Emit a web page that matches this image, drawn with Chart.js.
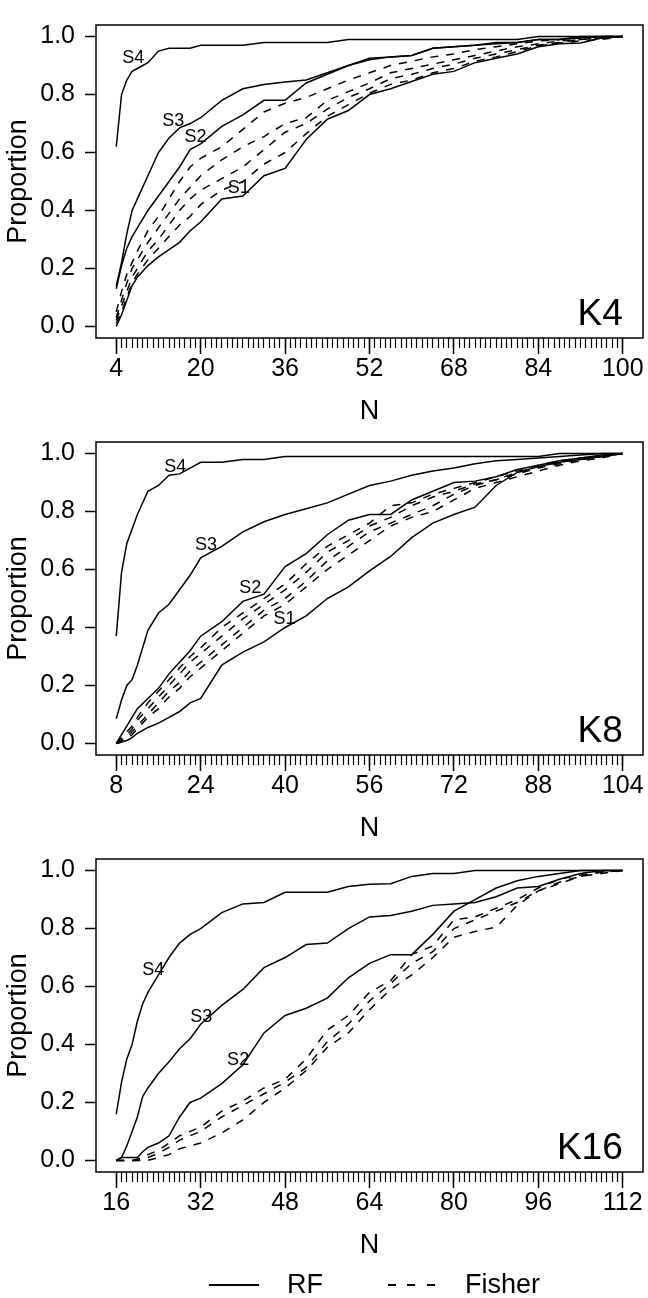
<!DOCTYPE html>
<html>
<head>
<meta charset="utf-8">
<script src="https://cdn.jsdelivr.net/npm/chart.js@4.4.1/dist/chart.umd.min.js"></script>
<style>
  body { margin: 0; width: 648px; height: 1298px; position: relative; background: #fff; overflow: hidden; }
  canvas { position: absolute; left: 0; }
  .key { position: absolute; font: 27px "Liberation Sans", Arial, sans-serif; color: #000; line-height: 27px; }
</style>
</head>
<body>
<canvas id="k4" width="648" height="440" style="top:0px"></canvas>
<canvas id="k8" width="648" height="440" style="top:417px"></canvas>
<canvas id="k16" width="648" height="440" style="top:834px"></canvas>

<div style="position:absolute;left:209px;top:1284px;width:50px;height:1.5px;background:#000"></div>
<span class="key" style="left:287px;top:1271px">RF</span>
<div style="position:absolute;left:388px;top:1284px;width:47px;height:1.5px;background:repeating-linear-gradient(90deg,#000 0 8px,transparent 8px 19.5px)"></div>
<span class="key" style="left:465px;top:1271px">Fisher</span>

<script>
// ---- K4 ----
const k4N = [4,5,6,7,8,10,12,14,16,18,20,24,28,32,36,40,44,48,52,56,60,64,68,72,76,80,84,88,92,96,100];
const k4Ticks = [4,20,36,52,68,84,100];
const k4RfS1 = [0,0.04,0.09,0.14,0.17,0.21,0.24,0.265,0.29,0.33,0.36,0.44,0.45,0.52,0.545,0.645,0.715,0.745,0.80,0.82,0.845,0.87,0.88,0.91,0.925,0.94,0.965,0.975,0.978,0.995,1.0];
const k4RfS2 = [0.13,0.21,0.27,0.31,0.34,0.40,0.45,0.50,0.55,0.61,0.63,0.69,0.73,0.78,0.78,0.84,0.87,0.90,0.92,0.93,0.935,0.96,0.965,0.97,0.975,0.98,0.99,0.99,0.995,1.0,1.0];
const k4RfS3 = [0.14,0.22,0.32,0.40,0.44,0.52,0.60,0.65,0.685,0.70,0.72,0.78,0.82,0.835,0.843,0.85,0.875,0.90,0.925,0.93,0.935,0.96,0.965,0.97,0.98,0.98,0.99,0.99,1.0,1.0,1.0];
const k4RfS4 = [0.62,0.80,0.85,0.88,0.89,0.91,0.95,0.96,0.96,0.96,0.97,0.97,0.97,0.98,0.98,0.98,0.98,0.99,0.99,0.99,0.99,0.99,0.99,0.99,0.99,0.99,1.0,1.0,1.0,1.0,1.0];
const k4FisherA = [0.05,0.12,0.18,0.22,0.26,0.33,0.38,0.44,0.50,0.55,0.58,0.62,0.68,0.74,0.77,0.79,0.82,0.85,0.875,0.90,0.915,0.93,0.94,0.955,0.965,0.975,0.985,0.99,0.995,1.0,1.0];
const k4FisherB = [0.03,0.09,0.15,0.20,0.23,0.29,0.34,0.39,0.44,0.48,0.52,0.575,0.62,0.655,0.70,0.72,0.78,0.81,0.84,0.875,0.89,0.905,0.92,0.935,0.95,0.965,0.975,0.985,0.99,0.995,1.0];
const k4FisherC = [0.02,0.07,0.12,0.17,0.20,0.26,0.30,0.35,0.40,0.44,0.47,0.51,0.55,0.61,0.67,0.70,0.75,0.79,0.82,0.855,0.87,0.89,0.905,0.925,0.94,0.955,0.97,0.98,0.99,0.995,1.0];
const k4FisherD = [0.01,0.05,0.10,0.15,0.18,0.23,0.27,0.31,0.35,0.38,0.42,0.47,0.50,0.56,0.60,0.665,0.725,0.765,0.805,0.835,0.85,0.875,0.89,0.915,0.93,0.948,0.968,0.978,0.985,0.99,1.0];

// ---- K8 ----
const k8N = [8,9,10,11,12,14,16,18,20,22,24,28,32,36,40,44,48,52,56,60,64,68,72,76,80,84,88,92,96,100,104];
const k8Ticks = [8,24,40,56,72,88,104];
const k8RfS1 = [0,0.005,0.01,0.02,0.035,0.055,0.07,0.09,0.11,0.14,0.155,0.27,0.315,0.35,0.40,0.44,0.50,0.54,0.595,0.645,0.71,0.76,0.79,0.815,0.89,0.935,0.955,0.97,0.98,0.99,1.0];
const k8RfS2 = [0,0.03,0.06,0.09,0.12,0.155,0.19,0.24,0.28,0.32,0.37,0.42,0.49,0.515,0.61,0.655,0.72,0.77,0.79,0.79,0.84,0.87,0.90,0.905,0.92,0.945,0.96,0.975,0.985,0.995,1.0];
const k8RfS3 = [0.085,0.15,0.20,0.22,0.27,0.39,0.45,0.48,0.53,0.58,0.64,0.68,0.73,0.765,0.79,0.81,0.83,0.86,0.89,0.905,0.925,0.94,0.95,0.965,0.975,0.98,0.985,0.99,0.995,1.0,1.0];
const k8RfS4 = [0.37,0.59,0.69,0.74,0.79,0.87,0.89,0.925,0.93,0.95,0.97,0.97,0.98,0.98,0.99,0.99,0.99,0.99,0.99,0.99,0.99,0.99,0.99,0.99,0.99,0.99,0.99,1.0,1.0,1.0,1.0];
const k8FisherA = [0,0.02,0.04,0.06,0.09,0.14,0.18,0.22,0.26,0.30,0.33,0.40,0.45,0.50,0.55,0.62,0.68,0.72,0.76,0.82,0.83,0.86,0.88,0.90,0.92,0.94,0.96,0.975,0.985,0.99,1.0];
const k8FisherB = [0,0.015,0.03,0.05,0.08,0.12,0.16,0.20,0.24,0.28,0.31,0.37,0.43,0.48,0.53,0.59,0.66,0.70,0.75,0.78,0.82,0.85,0.87,0.895,0.91,0.935,0.955,0.97,0.98,0.99,1.0];
const k8FisherC = [0,0.01,0.02,0.04,0.06,0.10,0.14,0.18,0.21,0.25,0.28,0.34,0.40,0.46,0.50,0.56,0.63,0.68,0.73,0.76,0.79,0.82,0.86,0.89,0.91,0.93,0.95,0.965,0.98,0.99,1.0];
const k8FisherD = [0,0.005,0.015,0.03,0.05,0.09,0.12,0.16,0.19,0.23,0.26,0.32,0.38,0.44,0.48,0.54,0.60,0.65,0.70,0.75,0.78,0.80,0.84,0.88,0.90,0.92,0.94,0.96,0.975,0.985,1.0];

// ---- K16 ----
const k16N = [16,17,18,19,20,21,22,24,26,28,30,32,36,40,44,48,52,56,60,64,68,72,76,80,84,88,92,96,100,104,108,112];
const k16Ticks = [16,32,48,64,80,96,112];
const k16RfS2 = [0,0.01,0.01,0.01,0.01,0.03,0.045,0.06,0.085,0.15,0.20,0.215,0.265,0.33,0.44,0.50,0.525,0.56,0.63,0.68,0.71,0.71,0.78,0.86,0.90,0.94,0.965,0.98,0.99,1.0,1.0,1.0];
const k16RfS3 = [0,0.01,0.05,0.10,0.15,0.22,0.25,0.30,0.34,0.385,0.42,0.47,0.535,0.59,0.665,0.70,0.745,0.75,0.80,0.84,0.845,0.86,0.88,0.885,0.89,0.91,0.94,0.945,0.97,0.99,1.0,1.0];
const k16RfS4 = [0.16,0.27,0.35,0.40,0.48,0.54,0.58,0.64,0.70,0.75,0.78,0.80,0.855,0.885,0.89,0.925,0.925,0.925,0.945,0.953,0.955,0.98,0.99,0.99,1.0,1.0,1.0,1.0,1.0,1.0,1.0,1.0];
const k16FisherA = [0,0,0,0,0.005,0.01,0.02,0.035,0.06,0.085,0.10,0.115,0.17,0.205,0.25,0.28,0.35,0.45,0.50,0.58,0.62,0.71,0.74,0.83,0.84,0.87,0.90,0.94,0.97,0.985,0.995,1.0];
const k16FisherB = [0,0,0,0,0,0,0,0.01,0.02,0.04,0.05,0.06,0.095,0.14,0.20,0.25,0.31,0.39,0.44,0.52,0.59,0.64,0.70,0.77,0.79,0.805,0.88,0.93,0.955,0.98,0.995,1.0];
const k16FisherC = [0,0,0,0,0,0.005,0.01,0.025,0.045,0.07,0.085,0.10,0.15,0.19,0.23,0.27,0.32,0.41,0.47,0.55,0.61,0.68,0.72,0.80,0.83,0.86,0.89,0.93,0.96,0.98,0.99,1.0];

const yTicks = [0, 0.2, 0.4, 0.6, 0.8, 1.0];

const FONT = '"Liberation Sans", Arial, sans-serif';
Chart.defaults.font.family = FONT;
Chart.defaults.color = '#000';

function series(ns, vals, dashed) {
    return {
        data: ns.map((n, i) => ({ x: n, y: vals[i] })),
        borderColor: '#000',
        borderWidth: 1.5,
        borderDash: dashed ? [8, 8] : [],
        pointRadius: 0,
        fill: false,
        tension: 0
    };
}

// box round the plot, S-labels on the curves, panel name in the corner
function panelDecor(tags, name) {
    return {
        id: 'panelDecor',
        afterDatasetsDraw(chart) {
            const { ctx, chartArea: a, scales: { x, y } } = chart;
            ctx.save();
            ctx.strokeStyle = '#000';
            ctx.lineWidth = 1.5;
            ctx.strokeRect(a.left, a.top, a.right - a.left, a.bottom - a.top);
            ctx.fillStyle = '#000';
            ctx.font = '18px ' + FONT;
            ctx.textAlign = 'center';
            ctx.textBaseline = 'middle';
            tags.forEach(t => ctx.fillText(t.text, x.getPixelForValue(t.n), y.getPixelForValue(t.p)));
            ctx.font = '37px ' + FONT;
            ctx.textAlign = 'right';
            ctx.textBaseline = 'alphabetic';
            ctx.fillText(name, x.getPixelForValue(x.max - (x.max - x.min) * 0.04 / 1.08), y.getPixelForValue(0) - 1);
            ctx.restore();
        }
    };
}

function createPanel(id, ns, majors, rf, fisher, tags, name) {
    const lo = ns[0], hi = ns[ns.length - 1];
    const pad = (hi - lo) * 0.04;
    const minors = [];
    for (let n = lo; n <= hi; n++) minors.push(n);

    return new Chart(document.getElementById(id), {
        type: 'line',
        data: {
            datasets: rf.map(v => series(ns, v, false)).concat(fisher.map(v => series(ns, v, true)))
        },
        options: {
            responsive: false,
            animation: false,
            layout: { padding: { top: 12, right: 5, left: 0, bottom: 0 } },
            scales: {
                xMinor: {
                    type: 'linear', position: 'bottom', weight: 0,
                    min: lo - pad, max: hi + pad,
                    afterBuildTicks: s => { s.ticks = minors.map(v => ({ value: v })); },
                    afterFit: s => { s.height = 0; },
                    grid: { drawOnChartArea: false, tickLength: 10, tickWidth: 1.2, tickColor: '#000' },
                    border: { display: false },
                    ticks: { display: false }
                },
                x: {
                    type: 'linear', position: 'bottom', weight: 1,
                    min: lo - pad, max: hi + pad,
                    afterBuildTicks: s => { s.ticks = majors.map(v => ({ value: v })); },
                    afterFit: s => { s.height = 102; },
                    grid: { drawOnChartArea: false, tickLength: 16, tickWidth: 1.5, tickColor: '#000' },
                    border: { display: false },
                    ticks: { font: { size: 25 }, padding: 0, maxRotation: 0, autoSkip: false },
                    title: { display: true, text: 'N', font: { size: 27 }, padding: { top: 0, bottom: 12 } }
                },
                y: {
                    type: 'linear', position: 'left',
                    min: -0.04, max: 1.04,
                    afterBuildTicks: s => { s.ticks = yTicks.map(v => ({ value: v })); },
                    afterFit: s => { s.width = 96; },
                    grid: { drawOnChartArea: false, tickLength: 11, tickWidth: 1.5, tickColor: '#000' },
                    border: { display: false },
                    ticks: { font: { size: 25 }, padding: 10, callback: v => Number(v).toFixed(1) },
                    title: { display: true, text: 'Proportion', font: { size: 27 }, padding: { top: 2, bottom: 0 } }
                }
            },
            plugins: {
                legend: { display: false },
                tooltip: { enabled: false }
            }
        },
        plugins: [panelDecor(tags, name)]
    });
}

createPanel('k4', k4N, k4Ticks,
    [k4RfS1, k4RfS2, k4RfS3, k4RfS4],
    [k4FisherA, k4FisherB, k4FisherC, k4FisherD],
    [{ text: 'S4', n: 7.2, p: 0.927 }, { text: 'S3', n: 14.8, p: 0.709 },
     { text: 'S2', n: 19.0, p: 0.655 }, { text: 'S1', n: 27.2, p: 0.478 }],
    'K4');

createPanel('k8', k8N, k8Ticks,
    [k8RfS1, k8RfS2, k8RfS3, k8RfS4],
    [k8FisherA, k8FisherB, k8FisherC, k8FisherD],
    [{ text: 'S4', n: 19.2, p: 0.953 }, { text: 'S3', n: 25.0, p: 0.683 },
     { text: 'S2', n: 33.4, p: 0.535 }, { text: 'S1', n: 39.9, p: 0.429 }],
    'K8');

createPanel('k16', k16N, k16Ticks,
    [k16RfS2, k16RfS3, k16RfS4],
    [k16FisherA, k16FisherB, k16FisherC],
    [{ text: 'S4', n: 23.0, p: 0.658 }, { text: 'S3', n: 32.1, p: 0.493 },
     { text: 'S2', n: 39.1, p: 0.345 }],
    'K16');
</script>
</body>
</html>
